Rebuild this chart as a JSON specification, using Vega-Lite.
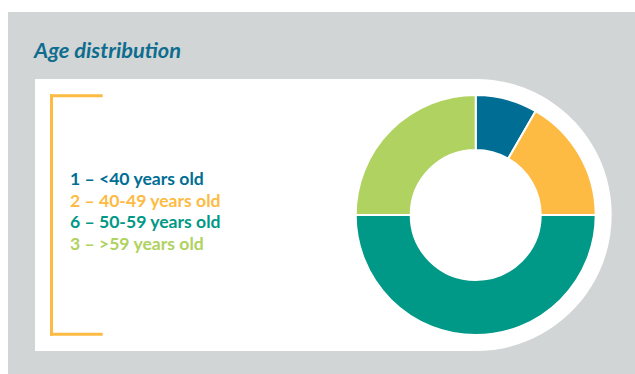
{
  "$schema": "https://vega.github.io/schema/vega-lite/v6.json",
  "autosize": {"type": "fit", "contains": "padding"},
  "width": 635,
  "height": 374,
  "padding": 0,
  "background": "white",
  "config": {"view": {"stroke": null}},
  "data": {
    "values": [
      {"age": "<40", "count": 1, "label": "1 – <40 years old", "order": 1},
      {"age": "40-49", "count": 2, "label": "2 – 40-49 years old", "order": 2},
      {"age": "50-59", "count": 6, "label": "6 – 50-59 years old", "order": 3},
      {"age": ">59", "count": 3, "label": "3 – >59 years old", "order": 4}
    ]
  },
  "layer": [
    {
      "data": {"values": [{}]},
      "mark": {"type": "rect", "x": 8, "x2": 635, "y": 12, "y2": 374, "fill": "#d1d5d6"},
      "encoding": {}
    },
    {
      "data": {"values": [{}]},
      "mark": {"type": "rect", "x": 35, "x2": 611.7, "y": 79, "y2": 351, "fill": "white", "cornerRadiusTopRight": 136, "cornerRadiusBottomRight": 136},
      "encoding": {}
    },
    {
      "data": {"values": [{}]},
      "mark": {"type": "rect", "x": 50, "x2": 53, "y": 94.3, "y2": 335.7, "fill": "#fdbb43"},
      "encoding": {}
    },
    {
      "data": {"values": [{}]},
      "mark": {"type": "rect", "x": 50, "x2": 102.7, "y": 94.3, "y2": 97.3, "fill": "#fdbb43"},
      "encoding": {}
    },
    {
      "data": {"values": [{}]},
      "mark": {"type": "rect", "x": 50, "x2": 102.7, "y": 332.7, "y2": 335.7, "fill": "#fdbb43"},
      "encoding": {}
    },
    {
      "data": {"values": [{}]},
      "mark": {"type": "text", "x": 34, "y": 58, "text": "Age distribution", "font": "Lato", "fontSize": 21.8, "fontStyle": "italic", "fontWeight": "bold", "fill": "#0e6d8e", "align": "left", "baseline": "alphabetic"},
      "encoding": {}
    },
    {
      "mark": {"type": "text", "x": 70, "font": "Lato", "fontSize": 17.6, "fontWeight": "bold", "align": "left", "baseline": "alphabetic"},
      "encoding": {
        "text": {"field": "label", "type": "nominal"},
        "y": {"field": "order", "type": "ordinal", "axis": null, "scale": {"type": "point", "padding": 0, "range": [185, 250]}},
        "color": {"field": "age", "type": "nominal", "legend": null, "scale": {"domain": ["<40", "40-49", "50-59", ">59"], "range": ["#006e94", "#fdbb43", "#009886", "#afd260"]}}
      }
    },
    {
      "mark": {"type": "arc", "x": 475.7, "y": 215, "innerRadius": 65, "outerRadius": 120, "stroke": "white", "strokeWidth": 2},
      "encoding": {
        "theta": {"field": "count", "type": "quantitative", "stack": true},
        "order": {"field": "order", "type": "quantitative"},
        "color": {"field": "age", "type": "nominal", "legend": null, "scale": {"domain": ["<40", "40-49", "50-59", ">59"], "range": ["#006e94", "#fdbb43", "#009886", "#afd260"]}}
      }
    }
  ]
}
